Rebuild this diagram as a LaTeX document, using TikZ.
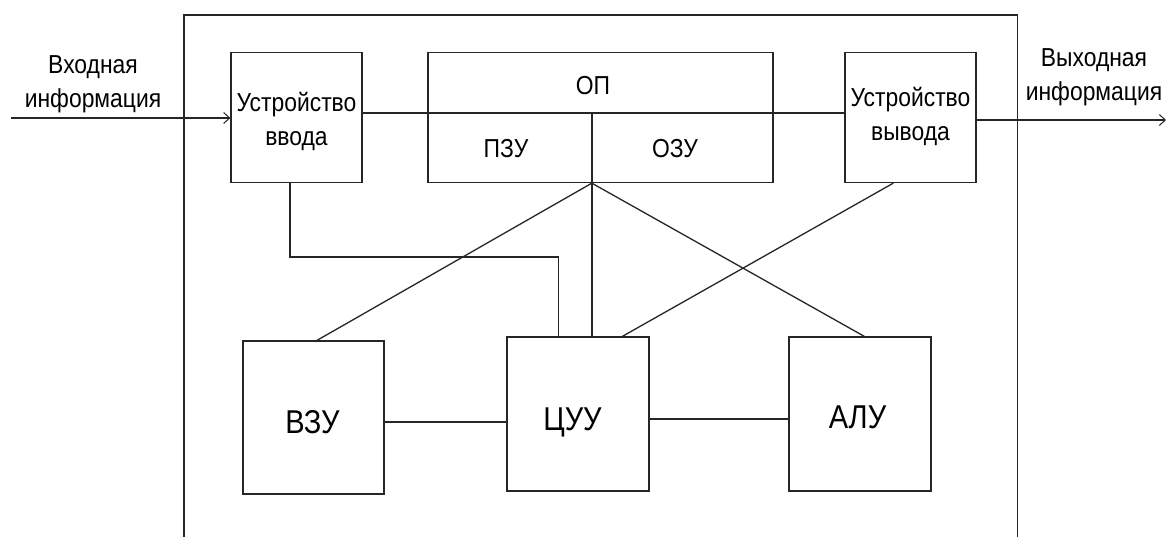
\documentclass[tikz,border=0pt]{standalone}
\usepackage{fontspec}
\setmainfont[FakeStretch=0.88]{Liberation Sans}
\usetikzlibrary{arrows.meta,calc}
\begin{document}
\begin{tikzpicture}[x=1pt,y=-1pt,
  ln/.style={line width=1.3pt,draw=black!85},
  blk/.style={ln,rectangle,inner sep=0pt},
  small/.style={font=\fontsize{26}{34}\selectfont,align=center,inner sep=0pt},
  big/.style={font=\fontsize{33}{40}\selectfont,inner sep=0pt,anchor=base},
  tip/.style={-{Straight Barb[length=6pt,width=11pt,line width=1pt]}}
]
\useasboundingbox (0,0) rectangle (1168,536);
\fill[white] (0,0) rectangle (1168,536);
% outer frame
\coordinate (fbl) at (184,537);
\coordinate (fbr) at (1017.5,537);
\draw[ln] (fbl) -- (184,15) -- (1017.5,15) -- (fbr);
% blocks
\node[blk,minimum width=131pt,minimum height=130pt] (in) at (296.5,117.5) {};
\node[blk,minimum width=345pt,minimum height=130pt] (op) at (600.5,117.5) {};
\node[blk,minimum width=131pt,minimum height=130pt] (out) at (910.5,117.5) {};
\node[blk,minimum width=141pt,minimum height=153pt] (vzu) at (313.5,417.5) {};
\node[blk,minimum width=142pt,minimum height=154pt] (cuu) at (578,414) {};
\node[blk,minimum width=142pt,minimum height=154pt] (alu) at (860,414) {};
% texts
\node[small] (tin) at (296.5,121) {Устройство\\ввода};
\node[small] (tout) at (910.5,116) {Устройство\\вывода};
\node[small] (lin) at (93,84) {Входная\\информация};
\node[small] (lout) at (1094,77) {Выходная\\информация};
\node[small,anchor=base] (top) at (593,94) {ОП};
\node[small,anchor=base] (tpzu) at (506,157) {ПЗУ};
\node[small,anchor=base] (tozu) at (675,157) {ОЗУ};
\node[big] (tvzu) at (312.5,433) {ВЗУ};
\node[big] (tcuu) at (572.5,430) {ЦУУ};
\node[big] (talu) at (857.5,428) {АЛУ};
% input / output arrows
\coordinate (src) at (11,118);
\coordinate (dst) at (1166,120);
\draw[ln,tip] (src) -- (src -| in.west);
\draw[ln,tip] (dst -| out.east) -- (dst);
% horizontal bus through OP divider
\draw[ln] ([yshift=4.5pt]in.east) -- ([yshift=4.5pt]out.west);
\coordinate (opb) at ($(op.south west)!0.475!(op.south east)$);
\coordinate (opm) at (opb |- 0,113);
\draw[ln] (opm) -- (opb);
% lines to lower blocks
\draw[ln] (opb) -- (opb |- cuu.north);
\draw[ln] (opb) -- ($(vzu.north west)!0.525!(vzu.north east)$);
\draw[ln] (opb) -- ($(alu.north west)!0.53!(alu.north east)$);
\draw[ln] ($(out.south west)!0.37!(out.south east)$) -- ($(cuu.north west)!0.81!(cuu.north east)$);
\coordinate (inb) at ($(in.south west)!0.45!(in.south east)$);
\coordinate (cuut) at ($(cuu.north west)!0.366!(cuu.north east)$);
\draw[ln] (inb) -- (inb |- 0,257) -- (cuut |- 0,257) -- (cuut);
% lower horizontals
\draw[ln] ([yshift=-4.5pt]vzu.east) -- ([yshift=-4.5pt]vzu.east -| cuu.west);
\draw[ln] ([yshift=-5pt]cuu.east) -- ([yshift=-5pt]cuu.east -| alu.west);
\end{tikzpicture}
\end{document}
